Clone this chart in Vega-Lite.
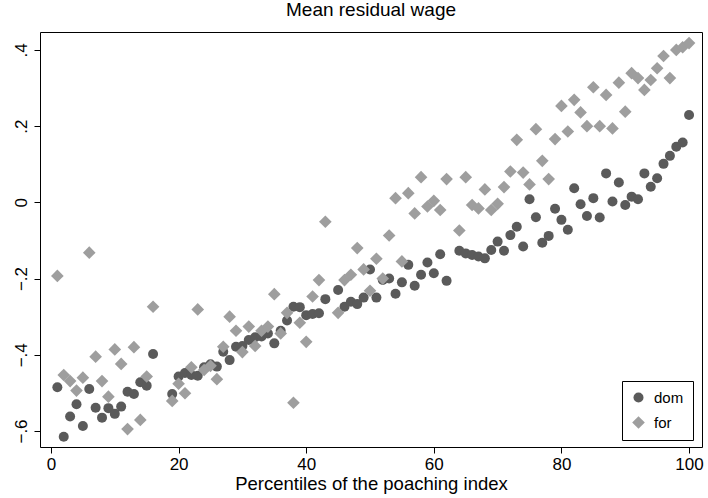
{
  "$schema": "https://vega.github.io/schema/vega-lite/v6.json",
  "width": 662,
  "height": 415,
  "autosize": {"type": "none"},
  "padding": {"left": 40, "top": 32, "right": 6, "bottom": 51},
  "background": "white",
  "config": {
    "font": "Liberation Sans",
    "view": {"stroke": "#000000", "strokeWidth": 1},
    "axis": {
      "domain": false,
      "grid": false,
      "tickColor": "#000000",
      "tickSize": 6,
      "labelColor": "#000000",
      "labelFontSize": 17,
      "titleColor": "#000000",
      "titleFontWeight": "normal",
      "titleFontSize": 18.5
    }
  },
  "title": {
    "text": "Mean residual wage",
    "fontSize": 19,
    "fontWeight": "normal",
    "color": "#000000",
    "anchor": "middle",
    "offset": 12
  },
  "data": {
    "values": [
      {"p": 1, "g": "dom", "v": -0.485}, {"p": 2, "g": "dom", "v": -0.615}, {"p": 3, "g": "dom", "v": -0.562},
      {"p": 4, "g": "dom", "v": -0.53}, {"p": 5, "g": "dom", "v": -0.587}, {"p": 6, "g": "dom", "v": -0.49},
      {"p": 7, "g": "dom", "v": -0.539}, {"p": 8, "g": "dom", "v": -0.565}, {"p": 9, "g": "dom", "v": -0.54},
      {"p": 10, "g": "dom", "v": -0.555}, {"p": 11, "g": "dom", "v": -0.536}, {"p": 12, "g": "dom", "v": -0.497},
      {"p": 13, "g": "dom", "v": -0.503}, {"p": 14, "g": "dom", "v": -0.472}, {"p": 15, "g": "dom", "v": -0.481},
      {"p": 16, "g": "dom", "v": -0.398}, {"p": 19, "g": "dom", "v": -0.503}, {"p": 20, "g": "dom", "v": -0.457},
      {"p": 21, "g": "dom", "v": -0.448}, {"p": 22, "g": "dom", "v": -0.453}, {"p": 23, "g": "dom", "v": -0.455},
      {"p": 24, "g": "dom", "v": -0.433}, {"p": 25, "g": "dom", "v": -0.425}, {"p": 26, "g": "dom", "v": -0.431},
      {"p": 27, "g": "dom", "v": -0.392}, {"p": 28, "g": "dom", "v": -0.414}, {"p": 29, "g": "dom", "v": -0.379},
      {"p": 30, "g": "dom", "v": -0.377}, {"p": 31, "g": "dom", "v": -0.361}, {"p": 32, "g": "dom", "v": -0.354},
      {"p": 33, "g": "dom", "v": -0.352}, {"p": 34, "g": "dom", "v": -0.344}, {"p": 35, "g": "dom", "v": -0.37},
      {"p": 36, "g": "dom", "v": -0.337}, {"p": 37, "g": "dom", "v": -0.31}, {"p": 38, "g": "dom", "v": -0.274},
      {"p": 39, "g": "dom", "v": -0.275}, {"p": 40, "g": "dom", "v": -0.296}, {"p": 41, "g": "dom", "v": -0.293},
      {"p": 42, "g": "dom", "v": -0.291}, {"p": 43, "g": "dom", "v": -0.254}, {"p": 45, "g": "dom", "v": -0.23},
      {"p": 46, "g": "dom", "v": -0.274}, {"p": 47, "g": "dom", "v": -0.261}, {"p": 48, "g": "dom", "v": -0.267},
      {"p": 49, "g": "dom", "v": -0.25}, {"p": 50, "g": "dom", "v": -0.176}, {"p": 51, "g": "dom", "v": -0.25},
      {"p": 52, "g": "dom", "v": -0.204}, {"p": 53, "g": "dom", "v": -0.2}, {"p": 54, "g": "dom", "v": -0.24},
      {"p": 55, "g": "dom", "v": -0.21}, {"p": 56, "g": "dom", "v": -0.164}, {"p": 57, "g": "dom", "v": -0.219},
      {"p": 58, "g": "dom", "v": -0.19}, {"p": 59, "g": "dom", "v": -0.158}, {"p": 60, "g": "dom", "v": -0.186},
      {"p": 61, "g": "dom", "v": -0.136}, {"p": 62, "g": "dom", "v": -0.206}, {"p": 64, "g": "dom", "v": -0.127},
      {"p": 65, "g": "dom", "v": -0.134}, {"p": 66, "g": "dom", "v": -0.138}, {"p": 67, "g": "dom", "v": -0.142},
      {"p": 68, "g": "dom", "v": -0.147}, {"p": 69, "g": "dom", "v": -0.125}, {"p": 70, "g": "dom", "v": -0.103},
      {"p": 71, "g": "dom", "v": -0.127}, {"p": 72, "g": "dom", "v": -0.086}, {"p": 73, "g": "dom", "v": -0.064},
      {"p": 74, "g": "dom", "v": -0.116}, {"p": 75, "g": "dom", "v": 0.008}, {"p": 76, "g": "dom", "v": -0.039},
      {"p": 77, "g": "dom", "v": -0.106}, {"p": 78, "g": "dom", "v": -0.088}, {"p": 79, "g": "dom", "v": -0.017},
      {"p": 80, "g": "dom", "v": -0.046}, {"p": 81, "g": "dom", "v": -0.072}, {"p": 82, "g": "dom", "v": 0.037},
      {"p": 83, "g": "dom", "v": -0.005}, {"p": 84, "g": "dom", "v": -0.036}, {"p": 85, "g": "dom", "v": 0.011},
      {"p": 86, "g": "dom", "v": -0.04}, {"p": 87, "g": "dom", "v": 0.076}, {"p": 88, "g": "dom", "v": 0.002},
      {"p": 89, "g": "dom", "v": 0.052}, {"p": 90, "g": "dom", "v": -0.007}, {"p": 91, "g": "dom", "v": 0.015},
      {"p": 92, "g": "dom", "v": 0.008}, {"p": 93, "g": "dom", "v": 0.076}, {"p": 94, "g": "dom", "v": 0.041},
      {"p": 95, "g": "dom", "v": 0.063}, {"p": 96, "g": "dom", "v": 0.101}, {"p": 97, "g": "dom", "v": 0.122},
      {"p": 98, "g": "dom", "v": 0.146}, {"p": 99, "g": "dom", "v": 0.157}, {"p": 100, "g": "dom", "v": 0.229},

      {"p": 1, "g": "for", "v": -0.193}, {"p": 2, "g": "for", "v": -0.453}, {"p": 3, "g": "for", "v": -0.469},
      {"p": 4, "g": "for", "v": -0.494}, {"p": 5, "g": "for", "v": -0.46}, {"p": 6, "g": "for", "v": -0.132},
      {"p": 7, "g": "for", "v": -0.405}, {"p": 8, "g": "for", "v": -0.469}, {"p": 9, "g": "for", "v": -0.51},
      {"p": 10, "g": "for", "v": -0.386}, {"p": 11, "g": "for", "v": -0.424}, {"p": 12, "g": "for", "v": -0.595},
      {"p": 13, "g": "for", "v": -0.38}, {"p": 14, "g": "for", "v": -0.571}, {"p": 15, "g": "for", "v": -0.457},
      {"p": 16, "g": "for", "v": -0.274}, {"p": 19, "g": "for", "v": -0.521}, {"p": 20, "g": "for", "v": -0.476},
      {"p": 21, "g": "for", "v": -0.501}, {"p": 22, "g": "for", "v": -0.433}, {"p": 23, "g": "for", "v": -0.281},
      {"p": 24, "g": "for", "v": -0.44}, {"p": 25, "g": "for", "v": -0.429}, {"p": 26, "g": "for", "v": -0.464},
      {"p": 27, "g": "for", "v": -0.379}, {"p": 28, "g": "for", "v": -0.3}, {"p": 29, "g": "for", "v": -0.337},
      {"p": 30, "g": "for", "v": -0.393}, {"p": 31, "g": "for", "v": -0.326}, {"p": 32, "g": "for", "v": -0.377},
      {"p": 33, "g": "for", "v": -0.337}, {"p": 34, "g": "for", "v": -0.326}, {"p": 35, "g": "for", "v": -0.241},
      {"p": 36, "g": "for", "v": -0.344}, {"p": 37, "g": "for", "v": -0.29}, {"p": 38, "g": "for", "v": -0.526},
      {"p": 39, "g": "for", "v": -0.316}, {"p": 40, "g": "for", "v": -0.366}, {"p": 41, "g": "for", "v": -0.247},
      {"p": 42, "g": "for", "v": -0.204}, {"p": 43, "g": "for", "v": -0.051}, {"p": 45, "g": "for", "v": -0.29},
      {"p": 46, "g": "for", "v": -0.204}, {"p": 47, "g": "for", "v": -0.19}, {"p": 48, "g": "for", "v": -0.12},
      {"p": 49, "g": "for", "v": -0.176}, {"p": 50, "g": "for", "v": -0.232}, {"p": 51, "g": "for", "v": -0.148},
      {"p": 52, "g": "for", "v": -0.2}, {"p": 53, "g": "for", "v": -0.087}, {"p": 54, "g": "for", "v": 0.011},
      {"p": 55, "g": "for", "v": -0.155}, {"p": 56, "g": "for", "v": 0.024}, {"p": 57, "g": "for", "v": -0.029},
      {"p": 58, "g": "for", "v": 0.066}, {"p": 59, "g": "for", "v": -0.011}, {"p": 60, "g": "for", "v": 0.004},
      {"p": 61, "g": "for", "v": -0.02}, {"p": 62, "g": "for", "v": 0.061}, {"p": 64, "g": "for", "v": -0.074},
      {"p": 65, "g": "for", "v": 0.066}, {"p": 66, "g": "for", "v": -0.007}, {"p": 67, "g": "for", "v": -0.016},
      {"p": 68, "g": "for", "v": 0.034}, {"p": 69, "g": "for", "v": -0.02}, {"p": 70, "g": "for", "v": -0.004},
      {"p": 71, "g": "for", "v": 0.04}, {"p": 72, "g": "for", "v": 0.081}, {"p": 73, "g": "for", "v": 0.164},
      {"p": 74, "g": "for", "v": 0.078}, {"p": 75, "g": "for", "v": 0.047}, {"p": 76, "g": "for", "v": 0.192},
      {"p": 77, "g": "for", "v": 0.109}, {"p": 78, "g": "for", "v": 0.061}, {"p": 79, "g": "for", "v": 0.166},
      {"p": 80, "g": "for", "v": 0.253}, {"p": 81, "g": "for", "v": 0.186}, {"p": 82, "g": "for", "v": 0.269},
      {"p": 83, "g": "for", "v": 0.236}, {"p": 84, "g": "for", "v": 0.2}, {"p": 85, "g": "for", "v": 0.302},
      {"p": 86, "g": "for", "v": 0.2}, {"p": 87, "g": "for", "v": 0.282}, {"p": 88, "g": "for", "v": 0.194},
      {"p": 89, "g": "for", "v": 0.314}, {"p": 90, "g": "for", "v": 0.238}, {"p": 91, "g": "for", "v": 0.339},
      {"p": 92, "g": "for", "v": 0.326}, {"p": 93, "g": "for", "v": 0.295}, {"p": 94, "g": "for", "v": 0.321},
      {"p": 95, "g": "for", "v": 0.352}, {"p": 96, "g": "for", "v": 0.384}, {"p": 97, "g": "for", "v": 0.326},
      {"p": 98, "g": "for", "v": 0.4}, {"p": 99, "g": "for", "v": 0.407}, {"p": 100, "g": "for", "v": 0.418}
    ]
  },
  "mark": {"type": "point", "filled": true, "opacity": 1},
  "encoding": {
    "x": {
      "field": "p",
      "type": "quantitative",
      "scale": {"domain": [-1.72, 102.03], "nice": false, "zero": false},
      "axis": {
        "values": [0, 20, 40, 60, 80, 100],
        "title": "Percentiles of the poaching index",
        "labelPadding": 3,
        "titlePadding": 2
      }
    },
    "y": {
      "field": "v",
      "type": "quantitative",
      "scale": {"domain": [-0.642, 0.447], "nice": false, "zero": false},
      "axis": {
        "values": [-0.6, -0.4, -0.2, 0, 0.2, 0.4],
        "title": null,
        "labelAngle": 270,
        "labelAlign": "center",
        "labelBaseline": "bottom",
        "labelPadding": 4,
        "labelExpr": "datum.value == 0 ? '0' : replace(format(datum.value, '.1f'), '0.', '.')"
      }
    },
    "color": {
      "field": "g",
      "type": "nominal",
      "scale": {"domain": ["dom", "for"], "range": ["#5a5a5a", "#9e9e9e"]},
      "legend": {
        "title": null,
        "orient": "none",
        "legendX": 582,
        "legendY": 349,
        "strokeColor": "#000000",
        "fillColor": "#ffffff",
        "padding": 9,
        "labelFontSize": 15,
        "labelColor": "#000000",
        "rowPadding": 9,
        "labelOffset": 8
      }
    },
    "shape": {
      "field": "g",
      "type": "nominal",
      "scale": {"domain": ["dom", "for"], "range": ["circle", "diamond"]}
    },
    "size": {
      "field": "g",
      "type": "nominal",
      "scale": {"domain": ["dom", "for"], "range": [100, 160]}
    },
    "order": {"field": "g", "sort": "ascending"}
  }
}
